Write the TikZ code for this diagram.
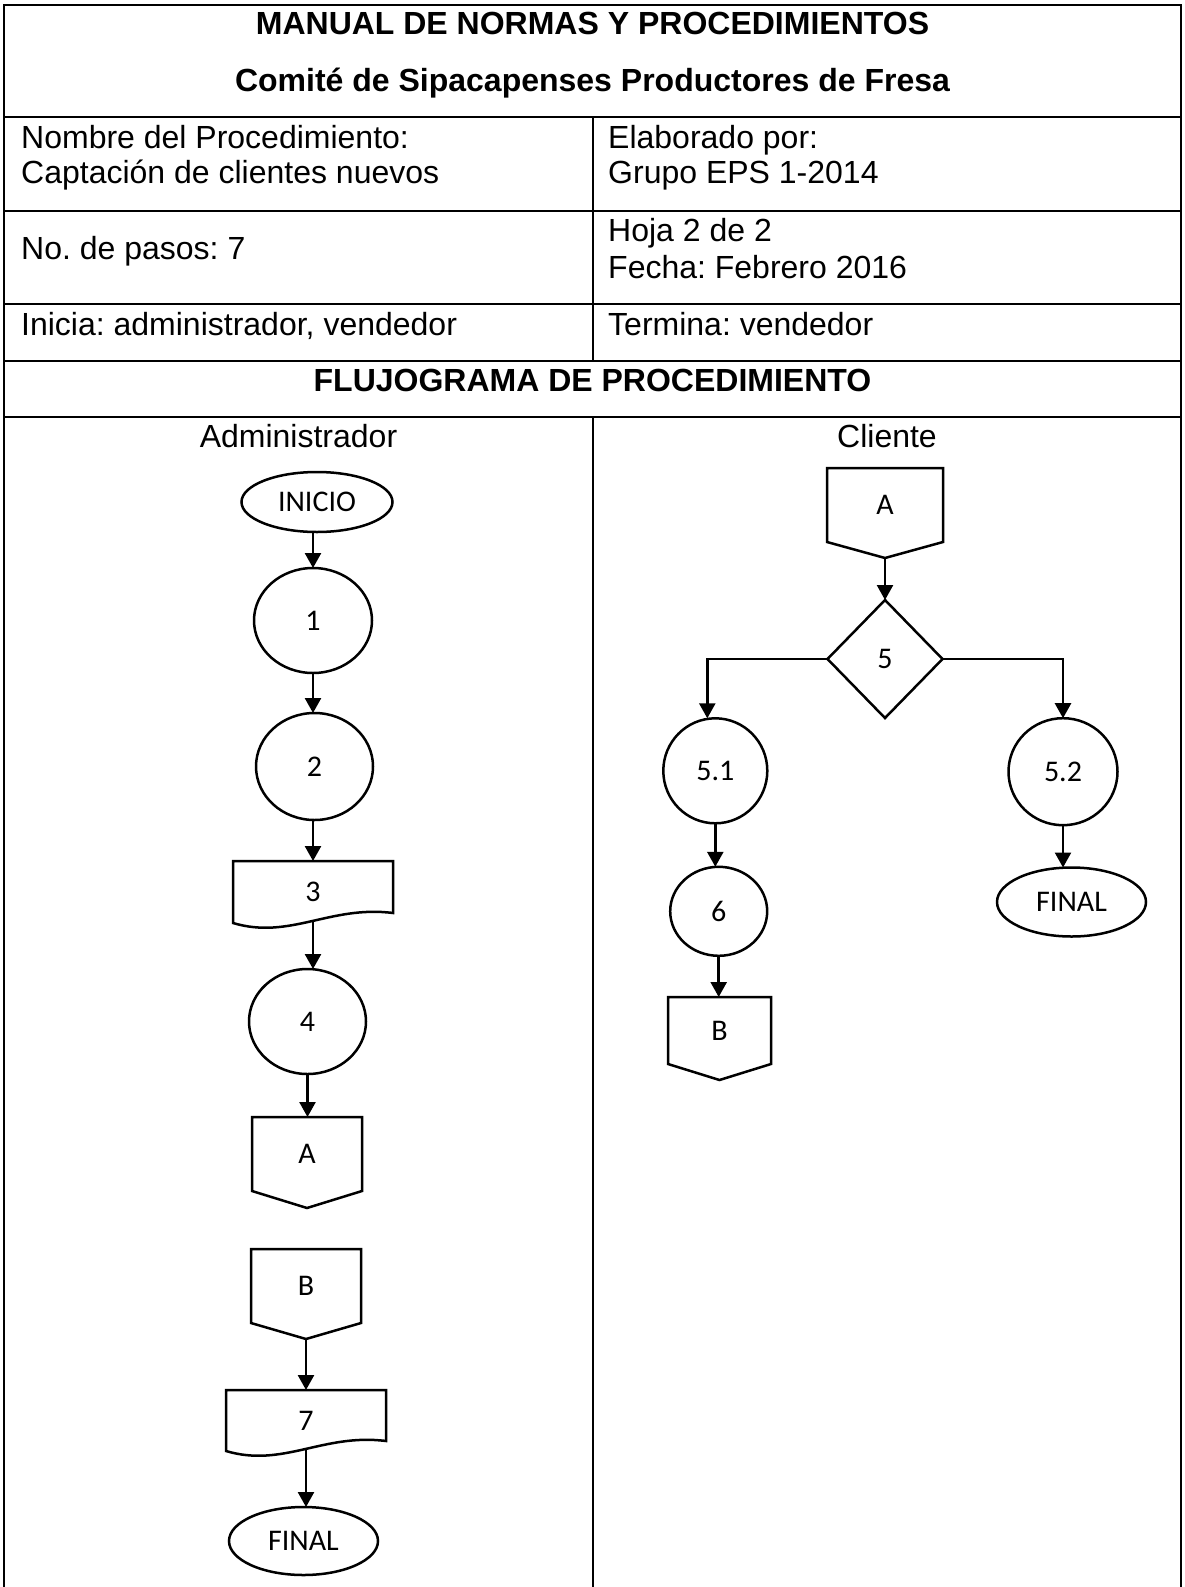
\documentclass[tikz,border=0pt]{standalone}
\usepackage{fontspec}
\setmainfont{Liberation Sans}
\newfontfamily\chartfont{Carlito}
\usetikzlibrary{shapes.geometric,arrows.meta,calc}
\frenchspacing

% outline of an off-page connector: box with a downward point
\newcommand\offpageframe[1]{%
  \draw[outline] (#1.north west) -- (#1.north east) -- (#1.south east)
    -- (#1tip) -- (#1.south west) -- cycle;}
% outline of a document symbol: box with a wavy bottom edge
\newcommand\docframe[1]{%
  \draw[outline] (#1.north west) -- (#1.north east) -- ($(#1.south east)+(0,-10)$)
    .. controls ($(#1.south east)+(-63,-18)$) and ($(#1.south west)+(57,17)$) .. (#1.south west)
    -- cycle;}

\begin{document}
\begin{tikzpicture}[x=1pt,y=-1pt,
  rule/.style={line width=2pt},
  frameline/.style={line width=2.4pt},
  head/.style={font=\fontsize{32}{36}\selectfont\bfseries, inner sep=0pt, anchor=base},
  cell/.style={font=\fontsize{32}{36}\selectfont, inner sep=0pt, anchor=base west},
  lane/.style={font=\fontsize{32}{36}\selectfont, inner sep=0pt, anchor=base},
  chart/.style={line width=2.5pt, inner sep=0pt, outer sep=0pt,
    font=\chartfont\fontsize{30}{34}\selectfont},
  outline/.style={line width=2.5pt, line join=miter},
  terminal/.style={chart, draw, ellipse},
  process/.style={chart, draw, ellipse},
  decision/.style={chart, draw, diamond},
  symbox/.style={chart, rectangle},
  flow/.style={line width=2.5pt, -{Triangle[width=16pt,length=15pt]}},
]
\useasboundingbox (0,0) rectangle (1184,1587);

% ---------- table frame ----------
\draw[frameline] (4,1587) -- (4,5) -- (1181,5) -- (1181,1587);
\foreach \yy in {117,211,304,361,417}
  \draw[rule] (4,\yy) -- (1181,\yy);
\draw[rule] (593,117) -- (593,361);
\draw[rule] (593,417) -- (593,1587);

% ---------- header texts ----------
\node[head] (title) at (592.5,35) {MANUAL DE NORMAS Y PROCEDIMIENTOS};
\node[head] (org) at (592.5,92) {Comité de Sipacapenses Productores de Fresa};
\node[cell] (nombre) at (21,148) {Nombre del Procedimiento:};
\node[cell] (proc) at (21,183) {Captación de clientes nuevos};
\node[cell] (elab) at (608,148) {Elaborado por:};
\node[cell] (grupo) at (608,183) {Grupo EPS 1-2014};
\node[cell] (pasos) at (21,259) {No. de pasos: 7};
\node[cell] (hoja) at (608,241) {Hoja 2 de 2};
\node[cell] (fecha) at (608,278) {Fecha: Febrero 2016};
\node[cell] (inicia) at (21,335) {Inicia: administrador, vendedor};
\node[cell] (termina) at (608,335) {Termina: vendedor};
\node[head] (flujo) at (592.5,391) {FLUJOGRAMA DE PROCEDIMIENTO};
\node[lane] (ladm) at (298.5,447) {Administrador};
\node[lane] (lcli) at (887,447) {Cliente};

% ---------- Administrador lane ----------
\node[terminal, minimum width=151pt, minimum height=60pt] (ini) at (317,502) {INICIO};
\node[process, minimum width=118pt, minimum height=105pt] (c1) at (313,620.5) {1};
\node[process, minimum width=117pt, minimum height=107pt] (c2) at (314.5,766.5) {2};
\node[symbox, minimum width=160pt, minimum height=62pt] (d3) at (313,892) {3};
\node[process, minimum width=117pt, minimum height=105pt] (c4) at (307.5,1021.5) {4};
\node[symbox, minimum width=110pt, minimum height=74pt] (A1) at (307,1154) {A};
\coordinate (A1tip) at ($(A1.south)+(0,17)$);
\node[symbox, minimum width=110pt, minimum height=74pt] (B1) at (306,1286) {B};
\coordinate (B1tip) at ($(B1.south)+(0,16)$);
\node[symbox, minimum width=160pt, minimum height=61pt] (d7) at (306,1420.5) {7};
\node[terminal, minimum width=149pt, minimum height=68pt] (fin1) at (303.5,1541) {FINAL};

\docframe{d3}
\offpageframe{A1}
\offpageframe{B1}
\docframe{d7}

\draw[flow] (ini.south -| c1.north) -- (c1.north);
\draw[flow] (c1.south) -- (c1.south |- c2.north);
\draw[flow] (c2.south -| d3.north) -- (d3.north);
\draw[flow] ($(d3.south)+(0,-2)$) -- (d3.south |- c4.north);
\draw[flow] (c4.south) -- (c4.south |- A1.north);
\draw[flow] (B1tip) -- (B1tip |- d7.north);
\draw[flow] ($(d7.south)+(0,-2)$) -- (d7.south |- fin1.north);

% ---------- Cliente lane ----------
\node[symbox, minimum width=116pt, minimum height=74pt] (A2) at (885,505) {A};
\coordinate (A2tip) at ($(A2.south)+(0,16)$);
\node[decision, minimum width=115pt, minimum height=118pt] (d5) at (885,659) {5};
\node[process, minimum width=104pt, minimum height=105pt] (c51) at (715.3,770.8) {5.1};
\node[process, minimum width=109pt, minimum height=107pt] (c52) at (1063,771.7) {5.2};
\node[process, minimum width=97pt, minimum height=89pt] (c6) at (718.7,911.3) {6};
\node[symbox, minimum width=103pt, minimum height=67pt] (B2) at (719.5,1030.5) {B};
\coordinate (B2tip) at ($(B2.south)+(0,16)$);
\node[terminal, minimum width=149pt, minimum height=69pt] (fin2) at (1071.5,902) {FINAL};

\offpageframe{A2}
\offpageframe{B2}

\draw[flow] (A2tip) -- (d5.north);
\draw[flow] (d5.west) -| ($(c51.north)+(-8,0)$);
\draw[flow] (d5.east) -| (c52.north);
\draw[flow] (c51.south) -- (c51.south |- c6.north);
\draw[flow] (c6.south) -- (c6.south |- B2.north);
\draw[flow] (c52.south) -- (c52.south |- fin2.north);
\end{tikzpicture}
\end{document}
